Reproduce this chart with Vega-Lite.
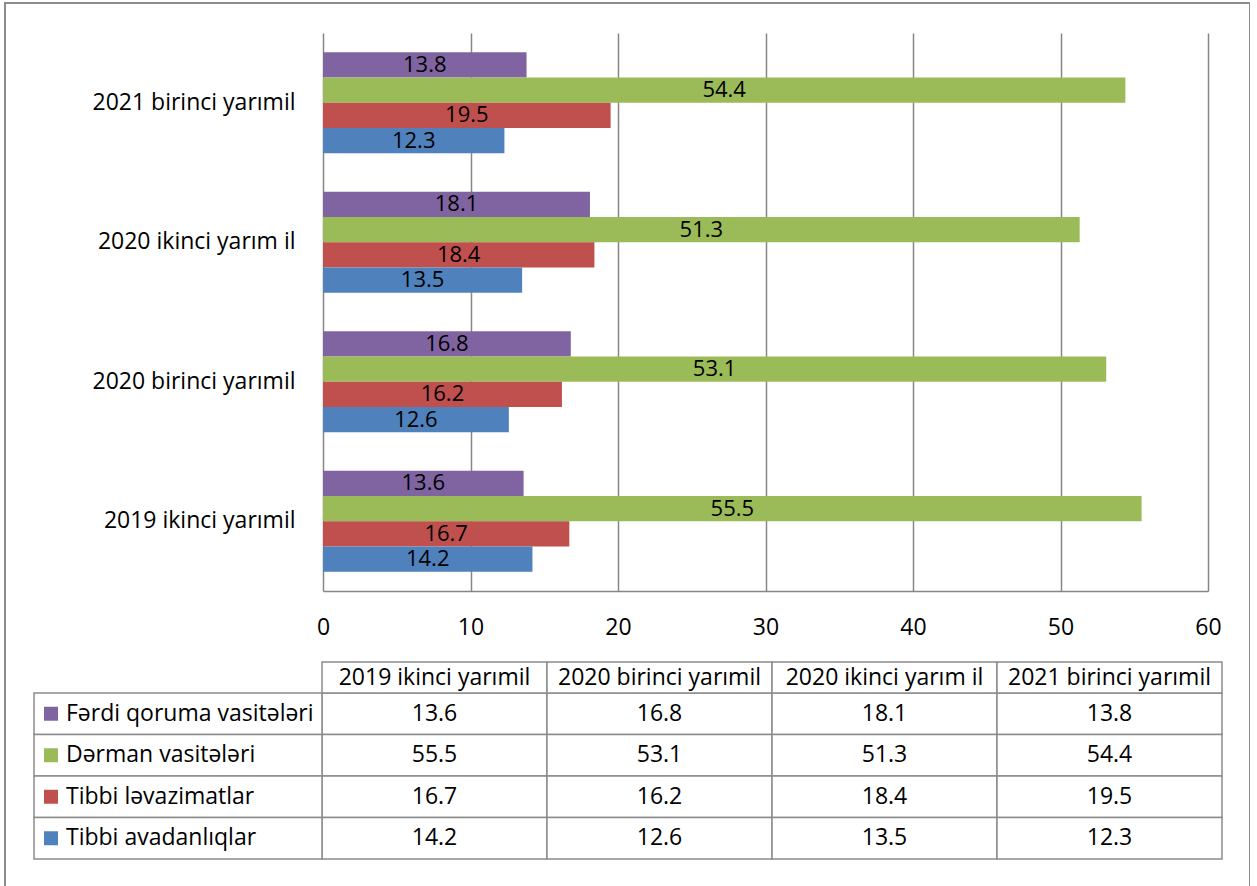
{
  "$schema": "https://vega.github.io/schema/vega-lite/v6.json",
  "width": 1245,
  "height": 887,
  "autosize": {"type": "none"},
  "padding": {"left": 5, "top": 3, "right": 0, "bottom": 0},
  "config": {
    "view": {"stroke": "#8c8c8c", "strokeWidth": 2},
    "font": "Open Sans",
    "text": {"font": "Open Sans"}
  },
  "data": {
    "values": [
      {"period": "2019 ikinci yarımil", "series": "Fərdi qoruma vasitələri", "value": 13.6},
      {"period": "2019 ikinci yarımil", "series": "Dərman vasitələri", "value": 55.5},
      {"period": "2019 ikinci yarımil", "series": "Tibbi ləvazimatlar", "value": 16.7},
      {"period": "2019 ikinci yarımil", "series": "Tibbi avadanlıqlar", "value": 14.2},
      {"period": "2020 birinci yarımil", "series": "Fərdi qoruma vasitələri", "value": 16.8},
      {"period": "2020 birinci yarımil", "series": "Dərman vasitələri", "value": 53.1},
      {"period": "2020 birinci yarımil", "series": "Tibbi ləvazimatlar", "value": 16.2},
      {"period": "2020 birinci yarımil", "series": "Tibbi avadanlıqlar", "value": 12.6},
      {"period": "2020 ikinci yarım il", "series": "Fərdi qoruma vasitələri", "value": 18.1},
      {"period": "2020 ikinci yarım il", "series": "Dərman vasitələri", "value": 51.3},
      {"period": "2020 ikinci yarım il", "series": "Tibbi ləvazimatlar", "value": 18.4},
      {"period": "2020 ikinci yarım il", "series": "Tibbi avadanlıqlar", "value": 13.5},
      {"period": "2021 birinci yarımil", "series": "Fərdi qoruma vasitələri", "value": 13.8},
      {"period": "2021 birinci yarımil", "series": "Dərman vasitələri", "value": 54.4},
      {"period": "2021 birinci yarımil", "series": "Tibbi ləvazimatlar", "value": 19.5},
      {"period": "2021 birinci yarımil", "series": "Tibbi avadanlıqlar", "value": 12.3}
    ]
  },
  "layer": [
    {
      "encoding": {
        "y": {
          "field": "period", "type": "nominal",
          "scale": {"domain": ["2021 birinci yarımil", "2020 ikinci yarım il", "2020 birinci yarımil", "2019 ikinci yarımil"], "range": [30, 588], "paddingInner": 0.276, "paddingOuter": 0.138},
          "axis": {"orient": "left", "offset": -318, "title": null, "domain": false, "ticks": false, "tickSize": 0, "labelPadding": 28, "labelFontSize": 23, "labelColor": "black", "labelLimit": 400, "labelFont": "Open Sans"}
        },
        "yOffset": {
          "field": "series", "type": "nominal",
          "scale": {"domain": ["Fərdi qoruma vasitələri", "Dərman vasitələri", "Tibbi ləvazimatlar", "Tibbi avadanlıqlar"], "paddingInner": 0, "paddingOuter": 0}
        }
      },
      "layer": [
        {
          "mark": {"type": "bar"},
          "encoding": {
            "x": {
              "field": "value", "type": "quantitative",
              "scale": {"domain": [0, 60], "range": [318, 1203], "nice": false},
              "axis": {"orient": "top", "offset": -588, "title": null, "values": [0, 10, 20, 30, 40, 50, 60], "grid": true, "gridColor": "#868686", "gridWidth": 1.5, "domainColor": "#868686", "domainWidth": 1.5, "ticks": false, "tickSize": 0, "labelPadding": -36, "labelBaseline": "middle", "labelFontSize": 23, "labelColor": "black", "labelFlush": false, "labelFont": "Open Sans"}
            },
            "color": {
              "field": "series", "type": "nominal",
              "scale": {"domain": ["Fərdi qoruma vasitələri", "Dərman vasitələri", "Tibbi ləvazimatlar", "Tibbi avadanlıqlar"], "range": ["#8064A2", "#9BBB59", "#C0504D", "#4F81BD"]},
              "legend": null
            }
          }
        },
        {
          "mark": {"type": "text", "fontSize": 22, "color": "black"},
          "encoding": {
            "x": {
              "field": "value", "type": "quantitative",
              "scale": {"domain": [0, 120], "range": [318, 1203], "nice": false},
              "axis": null
            },
            "text": {"field": "value", "type": "quantitative", "format": ".1f"}
          }
        }
      ],
      "resolve": {"scale": {"x": "independent"}, "axis": {"x": "independent"}}
    },
    {
      "mark": {"type": "rect", "fill": "white", "stroke": "#8c8c8c", "strokeWidth": 1.5},
      "encoding": {
        "x": {"field": "period", "type": "nominal", "scale": {"domain": ["2019 ikinci yarımil", "2020 birinci yarımil", "2020 ikinci yarım il", "2021 birinci yarımil"], "range": [317, 1217], "paddingInner": 0, "paddingOuter": 0}, "axis": null},
        "y": {"field": "series", "type": "nominal", "scale": {"domain": ["Fərdi qoruma vasitələri", "Dərman vasitələri", "Tibbi ləvazimatlar", "Tibbi avadanlıqlar"], "range": [690, 856], "paddingInner": 0, "paddingOuter": 0}, "axis": null}
      }
    },
    {
      "mark": {"type": "text", "fontSize": 23, "color": "black"},
      "encoding": {
        "x": {"field": "period", "type": "nominal", "scale": {"domain": ["2019 ikinci yarımil", "2020 birinci yarımil", "2020 ikinci yarım il", "2021 birinci yarımil"], "range": [317, 1217], "paddingInner": 0, "paddingOuter": 0}, "axis": null},
        "y": {"field": "series", "type": "nominal", "scale": {"domain": ["Fərdi qoruma vasitələri", "Dərman vasitələri", "Tibbi ləvazimatlar", "Tibbi avadanlıqlar"], "range": [690, 856], "paddingInner": 0, "paddingOuter": 0}, "axis": null},
        "text": {"field": "value", "type": "quantitative", "format": ".1f"}
      }
    },
    {
      "transform": [{"filter": "datum.series === 'Fərdi qoruma vasitələri'"}],
      "mark": {"type": "rect", "fill": "white", "stroke": "#8c8c8c", "strokeWidth": 1.5},
      "encoding": {
        "x": {"field": "period", "type": "nominal", "scale": {"domain": ["2019 ikinci yarımil", "2020 birinci yarımil", "2020 ikinci yarım il", "2021 birinci yarımil"], "range": [317, 1217], "paddingInner": 0, "paddingOuter": 0}, "axis": null},
        "y": {"datum": "header", "type": "nominal", "scale": {"domain": ["header"], "range": [659, 690], "paddingInner": 0, "paddingOuter": 0}, "axis": null}
      }
    },
    {
      "transform": [{"filter": "datum.series === 'Fərdi qoruma vasitələri'"}],
      "mark": {"type": "text", "fontSize": 23, "color": "black"},
      "encoding": {
        "x": {"field": "period", "type": "nominal", "scale": {"domain": ["2019 ikinci yarımil", "2020 birinci yarımil", "2020 ikinci yarım il", "2021 birinci yarımil"], "range": [317, 1217], "paddingInner": 0, "paddingOuter": 0}, "axis": null},
        "y": {"datum": "header", "type": "nominal", "scale": {"domain": ["header"], "range": [659, 690], "paddingInner": 0, "paddingOuter": 0}, "axis": null},
        "text": {"field": "period", "type": "nominal"}
      }
    },
    {
      "transform": [{"filter": "datum.period === '2019 ikinci yarımil'"}],
      "mark": {"type": "rect", "fill": "white", "stroke": "#8c8c8c", "strokeWidth": 1.5},
      "encoding": {
        "x": {"datum": "label", "type": "nominal", "scale": {"domain": ["label"], "range": [29, 317], "paddingInner": 0, "paddingOuter": 0}, "axis": null},
        "y": {"field": "series", "type": "nominal", "scale": {"domain": ["Fərdi qoruma vasitələri", "Dərman vasitələri", "Tibbi ləvazimatlar", "Tibbi avadanlıqlar"], "range": [690, 856], "paddingInner": 0, "paddingOuter": 0}, "axis": null}
      }
    },
    {
      "transform": [{"filter": "datum.period === '2019 ikinci yarımil'"}],
      "mark": {"type": "point", "shape": "square", "filled": true, "opacity": 1, "size": 196, "xOffset": -127},
      "encoding": {
        "x": {"datum": "label", "type": "nominal", "scale": {"domain": ["label"], "range": [29, 317], "paddingInner": 0, "paddingOuter": 0}, "axis": null},
        "y": {"field": "series", "type": "nominal", "scale": {"domain": ["Fərdi qoruma vasitələri", "Dərman vasitələri", "Tibbi ləvazimatlar", "Tibbi avadanlıqlar"], "range": [690, 856], "paddingInner": 0, "paddingOuter": 0}, "axis": null},
        "color": {
          "field": "series", "type": "nominal",
          "scale": {"domain": ["Fərdi qoruma vasitələri", "Dərman vasitələri", "Tibbi ləvazimatlar", "Tibbi avadanlıqlar"], "range": ["#8064A2", "#9BBB59", "#C0504D", "#4F81BD"]},
          "legend": null
        }
      }
    },
    {
      "transform": [{"filter": "datum.period === '2019 ikinci yarımil'"}],
      "mark": {"type": "text", "fontSize": 23, "color": "black", "align": "left", "dx": -112},
      "encoding": {
        "x": {"datum": "label", "type": "nominal", "scale": {"domain": ["label"], "range": [29, 317], "paddingInner": 0, "paddingOuter": 0}, "axis": null},
        "y": {"field": "series", "type": "nominal", "scale": {"domain": ["Fərdi qoruma vasitələri", "Dərman vasitələri", "Tibbi ləvazimatlar", "Tibbi avadanlıqlar"], "range": [690, 856], "paddingInner": 0, "paddingOuter": 0}, "axis": null},
        "text": {"field": "series", "type": "nominal"}
      }
    }
  ],
  "resolve": {
    "scale": {"x": "independent", "y": "independent", "yOffset": "independent"},
    "axis": {"x": "independent", "y": "independent"}
  }
}
